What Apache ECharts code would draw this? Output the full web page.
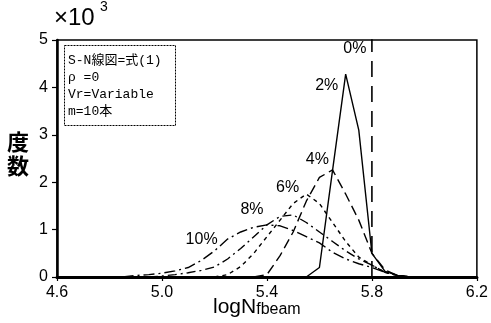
<!DOCTYPE html>
<html>
<head>
<meta charset="utf-8">
<script src="https://cdn.jsdelivr.net/npm/echarts@6/dist/echarts.min.js"></script>
<style>
  html, body { margin: 0; padding: 0; background: #fff; }
  #main { width: 491px; height: 323px; }
</style>
</head>
<body>
<div id="main"></div>
<script>
// 度数 (x10^3) over logNfbeam, one curve per Vr
var logN = [4.85, 4.9, 4.95, 5.0, 5.05, 5.1, 5.15, 5.2, 5.25, 5.3, 5.35, 5.4,
            5.45, 5.5, 5.55, 5.6, 5.65, 5.7, 5.75, 5.8, 5.85, 5.9, 5.95];
var v10 = [0, 0.03, 0.05, 0.08, 0.13, 0.2, 0.35, 0.55, 0.8, 0.95, 1.05, 1.1,
           1.08, 0.98, 0.85, 0.72, 0.52, 0.38, 0.28, 0.2, 0.1, 0.03, 0];
var v8 = [null, null, 0, 0.02, 0.05, 0.09, 0.14, 0.21, 0.38, 0.6, 0.85, 1.1,
          1.28, 1.31, 1.15, 0.95, 0.75, 0.55, 0.38, 0.25, 0.1, 0.03, 0];
var v6 = [null, null, null, null, null, null, null, 0, 0.05, 0.22, 0.5, 0.85,
          1.2, 1.55, 1.75, 1.55, 1.15, 0.75, 0.42, 0.25, 0.1, 0.03, 0];
var v4 = [null, null, null, null, null, null, null, null, null, null, 0, 0.05,
          0.45, 0.95, 1.6, 2.1, 2.26, 1.75, 1.2, 0.5, 0.15, 0.03, 0];
var v2 = [null, null, null, null, null, null, null, null, null, null, null, null,
          null, null, 0, 0.2, 2.25, 4.28, 3.1, 0.5, 0.12, 0.03, 0];
// 0% : everything falls in one bin
var v0x = [5.8, 5.8];
var v0y = [0, 10];

var labelText = ['0%', '2%', '4%', '6%', '8%', '10%'];
var labelX = [5.735, 5.628, 5.592, 5.479, 5.343, 5.151];
var labelY = [4.82, 4.03, 2.47, 1.88, 1.43, 0.78];

function pairs(xs, ys) {
    var out = [];
    for (var i = 0; i < xs.length; i++) {
        out.push([xs[i], ys[i]]);
    }
    return out;
}

var FONT = "'Liberation Sans', Arial, sans-serif";

function curve(name, ys, dash) {
    return {
        name: name,
        type: 'line',
        data: pairs(logN, ys),
        symbol: 'none',
        connectNulls: false,
        lineStyle: { color: '#000', width: 1.4, type: dash },
        z: 3
    };
}

var myChart = echarts.init(document.getElementById('main'));
myChart.setOption({
    animation: false,
    backgroundColor: '#fff',
    grid: {
        left: 57, right: 9, top: 40, bottom: 46,
        show: true, borderColor: '#000', borderWidth: 1.5
    },
    xAxis: {
        type: 'value',
        min: 4.6, max: 6.2, interval: 0.4,
        axisLine: { onZero: false, lineStyle: { color: '#000', width: 3 } },
        axisTick: { show: true, length: 4, lineStyle: { color: '#000', width: 1.2 } },
        axisLabel: {
            color: '#000', fontSize: 16, fontFamily: FONT, margin: 8,
            formatter: function (v) { return v.toFixed(1); }
        },
        splitLine: { show: false }
    },
    yAxis: {
        type: 'value',
        min: 0, max: 5, interval: 1,
        axisLine: { show: true, lineStyle: { color: '#000', width: 2.5 } },
        axisTick: { show: true, length: 5, lineStyle: { color: '#000', width: 1.2 } },
        axisLabel: { color: '#000', fontSize: 16, fontFamily: FONT, margin: 9 },
        splitLine: { show: false }
    },
    series: [
        {
            name: '0%',
            type: 'line',
            data: pairs(v0x, v0y),
            symbol: 'none',
            lineStyle: { color: '#000', width: 1.6, type: [16, 9] },
            z: 3
        },
        curve('2%', v2, 'solid'),
        curve('4%', v4, [10, 5]),
        curve('6%', v6, [4, 4]),
        curve('8%', v8, [9, 4, 2, 4]),
        curve('10%', v10, [11, 4, 2, 4]),
        {
            name: 'labels',
            type: 'scatter',
            data: labelText.map(function (t, i) { return { value: [labelX[i], labelY[i]], name: t }; }),
            symbolSize: 1,
            itemStyle: { color: '#fff', opacity: 0 },
            emphasis: { disabled: true },
            label: {
                show: true, position: 'inside', formatter: '{b}', opacity: 1,
                color: '#000', fontSize: 16, fontFamily: FONT
            },
            z: 5
        }
    ],
    graphic: [
        { type: 'text', left: 54, top: 6, style: { text: '×10', fontSize: 24, fontFamily: FONT, fill: '#000' } },
        { type: 'text', left: 100, top: 0, style: { text: '3', fontSize: 14, fontFamily: FONT, fill: '#000' } },
        { type: 'text', left: 7, top: 131, style: { text: '度', fontSize: 22, fontWeight: 'bold', fontFamily: "'Noto Sans CJK JP'", fill: '#000' } },
        { type: 'text', left: 7, top: 155, style: { text: '数', fontSize: 22, fontWeight: 'bold', fontFamily: "'Noto Sans CJK JP'", fill: '#000' } },
        {
            type: 'text', left: 213, top: 297,
            style: {
                text: '{a|log}{a|N}{b|fbeam}',
                rich: {
                    a: { fontSize: 21, fontFamily: FONT, fill: '#000', verticalAlign: 'bottom' },
                    b: { fontSize: 16, fontFamily: FONT, fill: '#000', verticalAlign: 'bottom' }
                }
            }
        },
        {
            type: 'rect', left: 64, top: 45, z: 10,
            shape: { width: 111, height: 80 },
            style: { fill: '#fff', stroke: '#000', lineWidth: 1, lineDash: [2, 1] }
        },
        {
            type: 'text', left: 68, top: 52, z: 11,
            style: {
                text: 'S-N線図=式(1)\nρ =0\nVr=Variable\nm=10本',
                fontSize: 13, lineHeight: 17,
                fontFamily: "'Liberation Mono', 'Noto Sans CJK JP', monospace",
                fill: '#000'
            }
        }
    ]
});
</script>
</body>
</html>
